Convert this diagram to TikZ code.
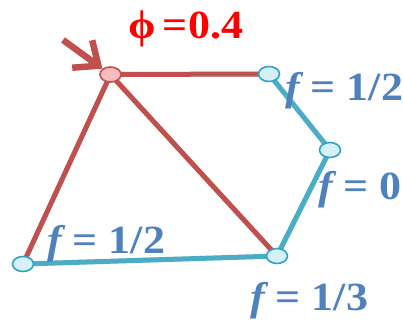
\documentclass[tikz,border=0pt]{standalone}
\usepackage{fontspec}
\setmainfont{Liberation Serif}
\usepackage{graphicx}
\usetikzlibrary{arrows.meta, shapes.geometric}

\definecolor{edgered}{HTML}{C0504D}
\definecolor{edgecyan}{HTML}{4BACC6}
\definecolor{rimcyan}{HTML}{31A3C4}
\definecolor{fillcyan}{HTML}{D4F1FA}
\definecolor{fillpink}{HTML}{F6BDBC}
\definecolor{labelblue}{HTML}{4F81BD}

\tikzset{
  vert/.style={ellipse, draw=rimcyan, fill=fillcyan, line width=1.6pt,
    minimum width=21pt, minimum height=15pt, inner sep=0pt},
  hot/.style={vert, draw=edgered, fill=fillpink},
  redge/.style={draw=edgered, line width=5pt},
  cedge/.style={draw=edgecyan, line width=5pt},
  shade/.style={draw=black!25, line width=5pt, opacity=0.35},
  flab/.style={text=labelblue, font=\fontsize{40}{40}\selectfont\bfseries, inner sep=0pt},
}

\newcommand{\fval}[1]{\scalebox{1.1}[1]{\textit{f}\,= #1}}

\begin{document}
\begin{tikzpicture}[x=1pt, y=-1pt]
\useasboundingbox (0,0) rectangle (403,324);

\coordinate (a) at (110.5,74.5);
\coordinate (b) at (269,74);
\coordinate (c) at (330,150);
\coordinate (d) at (277,256);
\coordinate (e) at (23,264);

% soft shadows under the edges
\begin{scope}[shift={(2,3)}]
\draw[shade] (a) -- (b) -- (c) -- (d) -- (e) -- cycle;
\draw[shade] (a) -- (d);
\end{scope}

\draw[redge] (a) -- (b);
\draw[redge] (a) -- (e);
\draw[redge] (a) -- (d);
\draw[cedge] (b) -- (c) -- (d) -- (e);

\node[hot] (A) at (a) {};
\node[vert] (B) at (b) {};
\node[vert] (C) at (c) {};
\node[vert] (D) at (d) {};
\node[vert] (E) at (e) {};

\coordinate (tail) at (63,40);
\draw[draw=edgered, line width=6.5pt, -{Straight Barb[length=20pt, width=34pt]}] (tail) -- (A);

\node[text=red, font=\fontsize{40}{40}\selectfont\bfseries, inner sep=0pt, anchor=base west]
  (phi) at (128,38) {\scalebox{1.1}[1]{ϕ\,=0.4}};

\node[flab, anchor=base west] (fb) at (285,100) {\fval{1/2}};
\node[flab, anchor=base west] (fc) at (318,199) {\fval{0}};
\node[flab, anchor=base west] (fe) at (47,253) {\fval{1/2}};
\node[flab, anchor=base west] (fd) at (250,310) {\fval{1/3}};
\end{tikzpicture}
\end{document}
